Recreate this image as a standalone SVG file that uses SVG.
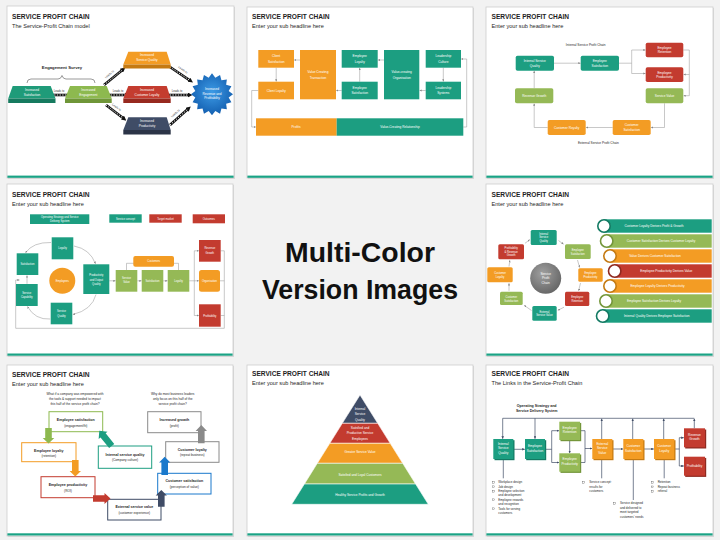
<svg xmlns="http://www.w3.org/2000/svg" width="720" height="540" viewBox="0 0 720 540">
<defs>
<style>
text{font-family:"Liberation Sans",Arial,sans-serif}
.fr{fill:#fff;stroke:#cdcdcd;stroke-width:.8}
.sh{fill:#d9d9d9}
.tb{fill:#1aa385}
.tt{font-weight:bold;font-size:6.6px;fill:#1e1e1e}
.st{font-size:5.6px;fill:#262626}
.w{fill:#fff;font-size:3.2px;text-anchor:middle}
.ws{fill:#fff;font-size:2.7px;text-anchor:middle}
.d{fill:#262626;font-size:3.2px;text-anchor:middle}
.db{fill:#1e1e1e;font-size:3.6px;text-anchor:middle;font-weight:bold}
.dl{fill:#262626;font-size:3px}
.te{fill:#1c9e81}.gr{fill:#95b956}.or{fill:#f39c24}.rd{fill:#c33b2f}.sa{fill:#3f4c66}
.ln{fill:none;stroke:#9a9a9a;stroke-width:.55}
.ld{fill:none;stroke:#3f4c66;stroke-width:.7}
.ch{fill:none;stroke:#111;stroke-width:2.6}
.cw{fill:none;stroke:#fff;stroke-width:.9;stroke-dasharray:1.4 1.3}
.bx{fill:#fff;stroke-width:1}
.cb{fill:#fff;stroke:#333;stroke-width:.3}
</style>
<marker id="mg" viewBox="0 0 10 10" refX="10" refY="5" markerWidth="2.2" markerHeight="2.2" markerUnits="userSpaceOnUse" orient="auto"><path d="M0,0L10,5L0,10z" fill="#8a8a8a"/></marker>
<marker id="md" viewBox="0 0 10 10" refX="10" refY="5" markerWidth="2.6" markerHeight="2.6" markerUnits="userSpaceOnUse" orient="auto"><path d="M0,0L10,5L0,10z" fill="#3f4c66"/></marker>
<marker id="mk" viewBox="0 0 10 10" refX="4" refY="5" markerWidth="5" markerHeight="5" markerUnits="userSpaceOnUse" orient="auto"><path d="M0,0L10,5L0,10z" fill="#111"/></marker>
<radialGradient id="gb" cx="50%" cy="45%" r="55%"><stop offset="0" stop-color="#3d9be6"/><stop offset="1" stop-color="#135fb0"/></radialGradient>
<radialGradient id="gg" cx="40%" cy="35%" r="65%"><stop offset="0" stop-color="#a0a0a0"/><stop offset="1" stop-color="#686868"/></radialGradient>
</defs>
<rect width="720" height="540" fill="#f2f2f2"/>

<g id="center-caption">
<text x="360" y="261.5" font-size="28.5" font-weight="bold" text-anchor="middle" fill="#111" textLength="150" lengthAdjust="spacingAndGlyphs">Multi-Color</text>
<text x="360" y="299" font-size="28.5" font-weight="bold" text-anchor="middle" fill="#111" textLength="196" lengthAdjust="spacingAndGlyphs">Version Images</text>
</g>

<!-- ============ SLIDE 1 ============ -->
<g id="slide1">
<rect class="sh" x="8" y="7" width="227" height="172"/>
<rect class="fr" x="7" y="6" width="227" height="172"/>
<rect class="tb" x="7.4" y="175.6" width="226.2" height="2.2"/>
<text class="tt" x="12" y="19.3">SERVICE PROFIT CHAIN</text>
<text class="st" x="12" y="28.3">The Service-Profit Chain model</text>
<g id="s1-survey">
<text x="62" y="69" font-size="4.2" font-weight="bold" text-anchor="middle" fill="#1e1e1e">Engagement Survey</text>
<path d="M27,83 Q27,79 31,79 L58,79 Q61,79 62,75.5 Q63,79 66,79 L91,79 Q95,79 95,83" fill="none" stroke="#555" stroke-width=".6"/>
</g>
<g id="s1-connectors">
<path class="ch" d="M46,95 H70.5" marker-end="url(#mk)"/><path class="cw" d="M46,95 H69"/>
<path class="ch" d="M108,95 H126.5" marker-end="url(#mk)"/><path class="cw" d="M108,95 H125"/>
<path class="ch" d="M167,95 H189.5" marker-end="url(#mk)"/><path class="cw" d="M167,95 H188"/>
<path class="ch" d="M104,85 L123,69.5" marker-end="url(#mk)"/><path class="cw" d="M104,85 L122,70.3"/>
<path class="ch" d="M106,105 L124,118.8" marker-end="url(#mk)"/><path class="cw" d="M106,105 L123,118"/>
<path class="ch" d="M170,67 L190.5,80.8" marker-end="url(#mk)"/><path class="cw" d="M170,67 L189.3,80"/>
<path class="ch" d="M170,125 L188.5,108.5" marker-end="url(#mk)"/><path class="cw" d="M170,125 L187.5,109.4"/>
<g font-size="2.8" fill="#333" text-anchor="middle">
<text x="59" y="91.5">Leads to</text>
<text x="118" y="91.5">Leads to</text>
<text x="177" y="91.5">Leads to</text>
<text x="110" y="75" transform="rotate(-40 110 75)">Leads to</text>
<text x="116" y="108" transform="rotate(37 116 108)">Leads to</text>
<text x="182.5" y="70.5" transform="rotate(35 182.5 70.5)">Leads to</text>
<text x="176" y="114" transform="rotate(-42 176 114)">Leads to</text>
</g>
</g>
<g id="s1-satisfaction">
<polygon points="12.7,86 50.7,86 55.5,98.5 8.2,98.5" fill="#1f9b79"/><rect x="8.2" y="98.5" width="47.3" height="4.5" fill="#167a5f"/>
<text class="w"><tspan x="32" y="90.8">Increased</tspan><tspan x="32" y="95.6">Satisfaction</tspan></text>
</g>
<g id="s1-engagement">
<polygon points="70,86 106.7,86 111.7,98.5 65,98.5" fill="#8db94f"/><rect x="65" y="98.5" width="46.7" height="4.5" fill="#6f9638"/>
<text class="w"><tspan x="88.3" y="90.8">Increased</tspan><tspan x="88.3" y="95.6">Engagement</tspan></text>
</g>
<g id="s1-quality">
<polygon points="128.3,51.7 166.7,51.7 170.7,64.5 123.3,64.5" fill="#f39c24"/><rect x="123.3" y="64.5" width="47.4" height="4" fill="#c57a12"/>
<text class="w"><tspan x="147" y="56.3">Increased</tspan><tspan x="147" y="61.1">Service Quality</tspan></text>
</g>
<g id="s1-loyalty">
<polygon points="128.3,86 166.7,86 170.7,98.5 123.3,98.5" fill="#c43c2f"/><rect x="123.3" y="98.5" width="47.4" height="4.5" fill="#97291f"/>
<text class="w"><tspan x="147" y="90.8">Increased</tspan><tspan x="147" y="95.6">Customer Loyalty</tspan></text>
</g>
<g id="s1-productivity">
<polygon points="128.3,117.3 166.7,117.3 170.7,130 123.3,130" fill="#3f4c66"/><rect x="123.3" y="130" width="47.4" height="4.5" fill="#2b3447"/>
<text class="w"><tspan x="147" y="121.9">Increased</tspan><tspan x="147" y="126.7">Productivity</tspan></text>
</g>
<g id="s1-revenue">
<polygon fill="url(#gb)" points="233,94.3 228.67,97.62 231.4,102.34 226.14,103.75 226.85,109.15 221.45,108.44 220.04,113.7 215.32,110.97 212,115.3 208.68,110.97 203.96,113.7 202.55,108.44 197.15,109.15 197.86,103.75 192.6,102.34 195.33,97.62 191,94.3 195.33,90.98 192.6,86.26 197.86,84.85 197.15,79.45 202.55,80.16 203.96,74.9 208.68,77.63 212,73.3 215.32,77.63 220.04,74.9 221.45,80.16 226.85,79.45 226.14,84.85 231.4,86.26 228.67,90.98"/>
<text class="w" font-size="3"><tspan x="212" y="89.8">Increased</tspan><tspan x="212" y="94.6">Revenue and</tspan><tspan x="212" y="99.4">Profitability</tspan></text>
</g>
</g>

<!-- ============ SLIDE 2 ============ -->
<g id="slide2" transform="translate(240,0)">
<rect class="sh" x="8" y="8" width="226" height="171"/>
<rect class="fr" x="7" y="7" width="226" height="171"/>
<rect class="tb" x="7.4" y="175.6" width="225.2" height="2.2"/>
<text class="tt" x="12" y="19.3">SERVICE PROFIT CHAIN</text>
<text class="st" x="12" y="28.3">Enter your sub headline here</text>
<g id="s2-connectors" marker-end="url(#mg)">
<path class="ln" d="M36.2,67.7 V81.5" marker-end="url(#mg)"/>
<path class="ln" d="M60,60 H54.2" marker-end="url(#mg)"/>
<path class="ln" d="M101.7,90.5 H96.2" marker-end="url(#mg)"/>
<path class="ln" d="M144,60 H137.9" marker-end="url(#mg)"/>
<path class="ln" d="M119.7,81.7 V67.9" marker-end="url(#mg)"/>
<path class="ln" d="M185.7,90.5 H179.5" marker-end="url(#mg)"/>
<path class="ln" d="M203.3,67.7 V81.5" marker-end="url(#mg)"/>
<path class="ln" d="M223.3,127 H226.7 V59 H221.2" marker-end="url(#mg)"/>
<path class="ln" d="M18.3,90.5 H11.7 V127 H15.8" marker-end="url(#mg)"/>
</g>
<g id="s2-client-satisfaction"><rect class="or" x="18.3" y="50" width="35.7" height="17.7"/><text class="w"><tspan x="36.2" y="57.2">Client</tspan><tspan x="36.2" y="62.6">Satisfaction</tspan></text></g>
<g id="s2-client-loyalty"><rect class="or" x="18.3" y="81.7" width="35.7" height="17.6"/><text class="w" x="36.2" y="91.6">Client Loyalty</text></g>
<g id="s2-transaction"><rect class="or" x="60" y="50" width="36" height="49.3"/><text class="w"><tspan x="78" y="73">Value Creating</tspan><tspan x="78" y="79">Transaction</tspan></text></g>
<g id="s2-employee-loyalty"><rect class="te" x="101.7" y="50" width="36" height="17.7"/><text class="w"><tspan x="119.7" y="57.2">Employee</tspan><tspan x="119.7" y="62.6">Loyalty</tspan></text></g>
<g id="s2-employee-satisfaction"><rect class="te" x="101.7" y="81.7" width="36" height="17.6"/><text class="w"><tspan x="119.7" y="89">Employee</tspan><tspan x="119.7" y="94.4">Satisfaction</tspan></text></g>
<g id="s2-organisation"><rect class="te" x="144" y="50" width="35.3" height="49.3"/><text class="w"><tspan x="161.7" y="73">Value-creating</tspan><tspan x="161.7" y="79">Organisation</tspan></text></g>
<g id="s2-leadership-culture"><rect class="te" x="185.7" y="50" width="35.3" height="17.7"/><text class="w"><tspan x="203.3" y="57.2">Leadership</tspan><tspan x="203.3" y="62.6">Culture</tspan></text></g>
<g id="s2-leadership-systems"><rect class="te" x="185.7" y="81.7" width="35.3" height="17.6"/><text class="w"><tspan x="203.3" y="89">Leadership</tspan><tspan x="203.3" y="94.4">Systems</tspan></text></g>
<g id="s2-profits"><rect class="or" x="16" y="118.3" width="80.7" height="17.4"/><text class="w" x="56" y="128.2">Profits</text></g>
<g id="s2-relationship"><rect class="te" x="96.7" y="118.3" width="126.6" height="17.4"/><text class="w" x="160" y="128.2">Value-Creating Relationship</text></g>
</g>

<!-- ============ SLIDE 3 ============ -->
<g id="slide3" transform="translate(480,0)">
<rect class="sh" x="7" y="8" width="227" height="171"/>
<rect class="fr" x="6" y="7" width="227" height="171"/>
<rect class="tb" x="6.4" y="175.6" width="226.2" height="2.2"/>
<text class="tt" x="11.5" y="19">SERVICE PROFIT CHAIN</text>
<text class="st" x="11.5" y="28.3">Enter your sub headline here</text>
<text class="d" x="105.7" y="45.7" font-size="4.3">Internal Service Profit Chain</text>
<text class="d" x="118.3" y="144" font-size="4.3">External Service Profit Chain</text>
<g id="s3-connectors">
<path class="ln" d="M74,63.2 H100.5" marker-end="url(#mg)"/>
<path class="ln" d="M139,63.2 H151.7 M151.7,50 V73.5"/>
<path class="ln" d="M151.7,50 H165.5" marker-end="url(#mg)"/>
<path class="ln" d="M151.7,73.5 H165.5" marker-end="url(#mg)"/>
<path class="ln" d="M203.3,50 H209.3 V95.7 H203.5" marker-end="url(#mg)"/>
<path class="ln" d="M209.3,74.5 H203.5" marker-end="url(#mg)"/>
<path class="ln" d="M184.5,103.3 V127.5 H170.9" marker-end="url(#mg)"/>
<path class="ln" d="M132.7,127.5 H105.9" marker-end="url(#mg)"/>
<path class="ln" d="M67.7,127.5 H54.2 V103.5" marker-end="url(#mg)"/>
<path class="ln" d="M54.2,88.3 V70.9" marker-end="url(#mg)"/>
</g>
<g id="s3-isq"><rect class="te" x="35.7" y="55.7" width="38.3" height="15" rx="1.8"/><text class="w" font-size="3"><tspan x="54.8" y="62">Internal Service</tspan><tspan x="54.8" y="66.6">Quality</tspan></text></g>
<g id="s3-es"><rect class="te" x="100.7" y="55.7" width="38.3" height="15" rx="1.8"/><text class="w" font-size="3"><tspan x="119.8" y="62">Employee</tspan><tspan x="119.8" y="66.6">Satisfaction</tspan></text></g>
<g id="s3-er"><rect class="rd" x="165.7" y="42.7" width="37.6" height="14.6" rx="1.8"/><text class="w" font-size="3"><tspan x="184.5" y="48.8">Employee</tspan><tspan x="184.5" y="53.4">Retention</tspan></text></g>
<g id="s3-ep"><rect class="rd" x="165.7" y="67.3" width="37.6" height="14.7" rx="1.8"/><text class="w" font-size="3"><tspan x="184.5" y="73.5">Employee</tspan><tspan x="184.5" y="78.1">Productivity</tspan></text></g>
<g id="s3-sv"><rect class="gr" x="165.7" y="88.3" width="37.6" height="15" rx="1.8"/><text class="w" font-size="3" x="184.5" y="96.8">Service Value</text></g>
<g id="s3-rg"><rect class="gr" x="35" y="88.3" width="38.3" height="15" rx="1.8"/><text class="w" font-size="3" x="54.2" y="96.8">Revenue Growth</text></g>
<g id="s3-cr"><rect class="or" x="67.7" y="120" width="38" height="15" rx="1.8"/><text class="w" font-size="3" x="86.7" y="128.5">Customer Royalty</text></g>
<g id="s3-cs"><rect class="or" x="132.7" y="120" width="38" height="15" rx="1.8"/><text class="w" font-size="3"><tspan x="151.7" y="126">Customer</tspan><tspan x="151.7" y="130.8">Satisfaction</tspan></text></g>
</g>

<!-- ============ SLIDE 4 ============ -->
<g id="slide4" transform="translate(0,180)">
<rect class="sh" x="8" y="5" width="226" height="172"/>
<rect class="fr" x="7" y="4" width="226" height="172"/>
<rect class="tb" x="7.4" y="173.5" width="225.2" height="2.2"/>
<text class="tt" x="12" y="16.7">SERVICE PROFIT CHAIN</text>
<text class="st" x="12" y="26">Enter your sub headline here</text>
<g id="s4-legend">
<rect class="te" x="30" y="34.3" width="59.3" height="9.7"/><text class="ws"><tspan x="59.7" y="38.3">Operating Strategy and Service</tspan><tspan x="59.7" y="42.1">Delivery System</tspan></text>
<rect class="te" x="109.3" y="34.3" width="32.4" height="8.4"/><text class="ws" x="125.5" y="39.5">Service concept</text>
<rect class="rd" x="149.3" y="34.3" width="32.4" height="8.4"/><text class="ws" x="165.5" y="39.5">Target market</text>
<rect class="rd" x="192.7" y="34.3" width="32.3" height="9"/><text class="ws" x="208.8" y="39.8">Outcomes</text>
</g>
<g id="s4-connectors">
<path class="ln" d="M51,62.5 Q33,62 25.5,72.8" marker-end="url(#mg)"/>
<path class="ln" d="M74,66 Q90,69 95.5,83.8" marker-end="url(#mg)"/>
<path class="ln" d="M96,114.5 Q92,130 72.8,134.5" marker-end="url(#mg)"/>
<path class="ln" d="M50.2,139 Q35,140 27.5,126.5" marker-end="url(#mg)"/>
<path class="ln" d="M27,103.8 V95.4" marker-end="url(#mg)"/>
<path class="ln" d="M126.5,90 V83.3 H178.5 V90"/>
<path class="ln" d="M109.3,100.8 H115.5" marker-end="url(#mg)"/>
<path class="ln" d="M137.3,100.8 H141.5" marker-end="url(#mg)"/>
<path class="ln" d="M163.3,100.8 H167.5" marker-end="url(#mg)"/>
<path class="ln" d="M189.3,100.8 H194.3 M194.3,70.8 V135.5"/>
<path class="ln" d="M194.3,70.8 H198.8" marker-end="url(#mg)"/>
<path class="ln" d="M194.3,100.8 H198.8" marker-end="url(#mg)"/>
<path class="ln" d="M194.3,135.5 H198.8" marker-end="url(#mg)"/>
<path class="ln" d="M220.7,70.8 H224.3 M220,100.8 H224.3 M220.7,135.5 H224.3"/>
<path class="ln" d="M224.3,70.8 V148.3 H15.7 V100 H19.5" marker-end="url(#mg)"/>
</g>
<g id="s4-loyalty"><rect class="te" x="51.7" y="57.3" width="21.6" height="22"/><text class="ws" x="62.5" y="69.2">Loyalty</text></g>
<g id="s4-satisfaction"><rect class="te" x="16.7" y="73.3" width="21.6" height="21.7"/><text class="ws" x="27.5" y="85.2">Satisfaction</text></g>
<g id="s4-capability"><rect class="te" x="16" y="104" width="21.7" height="22"/><text class="ws"><tspan x="26.8" y="113.8">Service</tspan><tspan x="26.8" y="118.2">Capability</tspan></text></g>
<g id="s4-quality"><rect class="te" x="50.7" y="122.7" width="21.6" height="21.6"/><text class="ws"><tspan x="61.5" y="132.4">Service</tspan><tspan x="61.5" y="136.8">Quality</tspan></text></g>
<g id="s4-productivity"><rect class="te" x="83.3" y="84.3" width="26" height="29.7"/><text class="ws"><tspan x="96.3" y="96.2">Productivity</tspan><tspan x="96.3" y="100.6">and Output</tspan><tspan x="96.3" y="105">Quality</tspan></text></g>
<g id="s4-employees"><circle class="or" cx="62.3" cy="100.7" r="13"/><text class="ws" x="62.3" y="101.7">Employees</text></g>
<g id="s4-service-value"><rect class="gr" x="115.7" y="90" width="21.6" height="21.7"/><text class="ws"><tspan x="126.5" y="99">Service</tspan><tspan x="126.5" y="103.4">Value</tspan></text></g>
<g id="s4-c-satisfaction"><rect class="gr" x="141.7" y="90" width="21.6" height="21.7"/><text class="ws" x="152.5" y="101.8">Satisfaction</text></g>
<g id="s4-c-loyalty"><rect class="gr" x="167.7" y="90" width="21.6" height="21.7"/><text class="ws" x="178.5" y="101.8">Loyalty</text></g>
<g id="s4-customers"><rect class="or" x="133.3" y="76" width="40.7" height="10.7" rx="2"/><text class="ws" x="153.7" y="82.3">Customers</text></g>
<g id="s4-revenue"><rect class="rd" x="199" y="60" width="21.7" height="21.7"/><text class="ws"><tspan x="209.8" y="69.3">Revenue</tspan><tspan x="209.8" y="73.7">Growth</tspan></text></g>
<g id="s4-organisation"><rect class="or" x="199" y="90" width="21" height="21.7" rx="2.5"/><text class="ws" x="209.5" y="101.8">Organisation</text></g>
<g id="s4-profitability"><rect class="rd" x="199" y="124.3" width="21.7" height="22.4"/><text class="ws" x="209.8" y="136.5">Profitability</text></g>
</g>

<!-- ============ SLIDE 5 ============ -->
<g id="slide5" transform="translate(480,180)">
<rect class="sh" x="7" y="5" width="227" height="172"/>
<rect class="fr" x="6" y="4" width="227" height="172"/>
<rect class="tb" x="6.4" y="173.5" width="226.2" height="2.2"/>
<text class="tt" x="11.5" y="16.7">SERVICE PROFIT CHAIN</text>
<text class="st" x="11.5" y="26">Enter your sub headline here</text>
<g id="s5-connectors">
<path class="ln" d="M78.5,60.5 L83.6,64.3" marker-end="url(#mg)"/>
<path class="ln" d="M97.5,80 L99.6,87.5" marker-end="url(#mg)"/>
<path class="ln" d="M100.5,103 L98.6,110.8" marker-end="url(#mg)"/>
<path class="ln" d="M84,127.2 L77.8,130.3" marker-end="url(#mg)"/>
<path class="ln" d="M51.5,130.5 L44.2,125.3" marker-end="url(#mg)"/>
<path class="ln" d="M29,110.8 L29,103.3" marker-end="url(#mg)"/>
<path class="ln" d="M29,86.5 L29.8,80.2" marker-end="url(#mg)"/>
<path class="ln" d="M45,63.3 L49.8,59.6" marker-end="url(#mg)"/>
</g>
<g id="s5-hub"><circle cx="65.7" cy="98.3" r="15.5" fill="url(#gg)"/><text class="w" font-size="4.2"><tspan x="65.7" y="94.5">Service</tspan><tspan x="65.7" y="99.3">Profit</tspan><tspan x="65.7" y="104.1">Chain</tspan></text></g>
<g id="s5-isq"><rect class="te" x="50.7" y="50" width="26" height="15" rx="1.5"/><text class="ws" font-size="2.6"><tspan x="63.7" y="54.8">Internal</tspan><tspan x="63.7" y="58.4">Service</tspan><tspan x="63.7" y="62">Quality</tspan></text></g>
<g id="s5-es"><rect class="gr" x="85" y="64.3" width="25.7" height="14.7" rx="1.5"/><text class="ws" font-size="2.6"><tspan x="97.8" y="70.8">Employee</tspan><tspan x="97.8" y="74.6">Satisfaction</tspan></text></g>
<g id="s5-ep"><rect class="or" x="98.3" y="88.3" width="24.4" height="13.4" rx="1.5"/><text class="ws" font-size="2.6"><tspan x="110.5" y="94.2">Employee</tspan><tspan x="110.5" y="98">Productivity</tspan></text></g>
<g id="s5-er"><rect class="rd" x="85" y="111.7" width="24.3" height="14.3" rx="1.5"/><text class="ws" font-size="2.6"><tspan x="97.2" y="118">Employee</tspan><tspan x="97.2" y="121.8">Retention</tspan></text></g>
<g id="s5-esv"><rect class="te" x="52.3" y="126" width="24.4" height="14.7" rx="1.5"/><text class="ws" font-size="2.6"><tspan x="64.5" y="132.5">External</tspan><tspan x="64.5" y="136.3">Service Value</tspan></text></g>
<g id="s5-cs"><rect class="gr" x="20" y="111.7" width="22.7" height="13.3" rx="1.5"/><text class="ws" font-size="2.6"><tspan x="31.3" y="117.8">Customer</tspan><tspan x="31.3" y="121.6">Satisfaction</tspan></text></g>
<g id="s5-cl"><rect class="or" x="7.3" y="87.3" width="25.4" height="15" rx="1.5"/><text class="ws" font-size="2.6"><tspan x="20" y="93.8">Customer</tspan><tspan x="20" y="97.6">Loyalty</tspan></text></g>
<g id="s5-prg"><rect class="rd" x="18.3" y="64.3" width="25.7" height="15" rx="1.5"/><text class="ws" font-size="2.6"><tspan x="31.2" y="68.9">Profitability</tspan><tspan x="31.2" y="72.5">&amp; Revenue</tspan><tspan x="31.2" y="76.1">Growth</tspan></text></g>
<g id="s5-bar1"><rect class="te" x="124" y="39.3" width="107.7" height="13.4"/><circle cx="124" cy="46" r="6.2" fill="#fff" stroke="#137a63" stroke-width="1.6"/><text class="w" font-size="3.1" x="174" y="47.2">Customer Loyalty Derives Profit &amp; Growth</text></g>
<g id="s5-bar2"><rect class="gr" x="126.7" y="54.3" width="105" height="13.4"/><circle cx="126.7" cy="61" r="6.2" fill="#fff" stroke="#74963a" stroke-width="1.6"/><text class="w" font-size="3.1" x="181" y="62.2">Customer Satisfaction Derives Customer Loyalty</text></g>
<g id="s5-bar3"><rect class="or" x="130" y="69.3" width="101.7" height="13.4"/><circle cx="130" cy="76" r="6.2" fill="#fff" stroke="#c57a12" stroke-width="1.6"/><text class="w" font-size="3.1" x="175" y="77.2">Value Derives Customer Satisfaction</text></g>
<g id="s5-bar4"><rect class="rd" x="134.7" y="84.3" width="97" height="13.4"/><circle cx="134.7" cy="91" r="6.2" fill="#fff" stroke="#8f2a20" stroke-width="1.6"/><text class="w" font-size="3.1" x="186.3" y="92.2">Employee Productivity Derives Value</text></g>
<g id="s5-bar5"><rect class="or" x="130" y="99.3" width="101.7" height="13.4"/><circle cx="130" cy="106" r="6.2" fill="#fff" stroke="#c57a12" stroke-width="1.6"/><text class="w" font-size="3.1" x="177.5" y="107.2">Employee Loyalty Derives Productivity</text></g>
<g id="s5-bar6"><rect class="gr" x="126" y="114.3" width="105.7" height="13.4"/><circle cx="126" cy="121" r="6.2" fill="#fff" stroke="#74963a" stroke-width="1.6"/><text class="w" font-size="3.1" x="174" y="122.2">Employee Satisfaction Derives Loyalty</text></g>
<g id="s5-bar7"><rect class="te" x="122.7" y="129.3" width="109" height="13.4"/><circle cx="122.7" cy="136" r="6.2" fill="#fff" stroke="#137a63" stroke-width="1.6"/><text class="w" font-size="3.1" x="176.7" y="137.2">Internal Quality Derives Employee Satisfaction</text></g>
</g>

<!-- ============ SLIDE 6 ============ -->
<g id="slide6" transform="translate(0,360)">
<rect class="sh" x="8" y="6" width="226" height="171"/>
<rect class="fr" x="7" y="5" width="226" height="171"/>
<rect class="tb" x="7.4" y="173.3" width="225.2" height="2.2"/>
<text class="tt" x="12" y="16.7">SERVICE PROFIT CHAIN</text>
<text class="st" x="12" y="25.7">Enter your sub headline here</text>
<text class="d" font-size="3"><tspan x="75" y="35.2">What if a company was empowered with</tspan><tspan x="75" y="40.3">the tools &amp; support needed to impact</tspan><tspan x="75" y="45.4">this half of the service profit chain?</tspan></text>
<text class="d" font-size="3"><tspan x="172.7" y="35.2">Why do most business leaders</tspan><tspan x="172.7" y="40.3">only focus on this half of the</tspan><tspan x="172.7" y="45.4">service profit chain?</tspan></text>
<g id="s6-emp-sat"><rect class="bx" x="49" y="51.7" width="53.7" height="20" stroke="#8db94f"/><text class="db" x="75.8" y="61.2">Employee satisfaction</text><text class="d" x="75.8" y="66.8">(engagement/fit)</text></g>
<g id="s6-emp-loy"><rect class="bx" x="21.7" y="82.7" width="54.3" height="19" stroke="#f39c24"/><text class="db" x="48.8" y="91.5">Employee loyalty</text><text class="d" x="48.8" y="97">(retention)</text></g>
<g id="s6-emp-prod"><rect class="bx" x="41" y="116.7" width="54" height="21" stroke="#c33b2f"/><text class="db" x="68" y="126">Employee productivity</text><text class="d" x="68" y="131.5">(ROI)</text></g>
<g id="s6-ext-val"><rect class="bx" x="107.7" y="139.3" width="53.3" height="20.7" stroke="#3f4c66"/><text class="db" x="134.3" y="148">External service value</text><text class="d" x="134.3" y="153.5">(customer experience)</text></g>
<g id="s6-cust-sat"><rect class="bx" x="157.7" y="113.3" width="53.3" height="20.7" stroke="#1a79cc"/><text class="db" x="184.3" y="122">Customer satisfaction</text><text class="d" x="184.3" y="127.5">(perception of value)</text></g>
<g id="s6-cust-loy"><rect class="bx" x="165.7" y="81.7" width="53.3" height="20.6" stroke="#8a8a8a"/><text class="db" x="192.3" y="90.5">Customer loyalty</text><text class="d" x="192.3" y="96">(repeat business)</text></g>
<g id="s6-growth"><rect class="bx" x="147.7" y="51.7" width="53.3" height="21" stroke="#8a8a8a"/><text class="db" x="174.3" y="61">Increased growth</text><text class="d" x="174.3" y="66.8">(profit)</text></g>
<g id="s6-isq"><rect class="bx" x="98.3" y="86" width="53.4" height="22.3" stroke="#1c9e81"/><text class="db" x="125" y="95.5">Internal service quality</text><text class="d" x="125" y="101">(Company culture)</text></g>
<g id="s6-connectors">
<polygon fill="#8db94f" points="45.2,68 51.8,68 51.8,78 54.3,78 48.5,83.5 42.7,78 45.2,78"/>
<polygon fill="#f39c24" points="72,100 78.6,100 78.6,111 81,111 75.3,116.5 69.6,111 72,111"/>
<polygon fill="#c33b2f" points="93,135.2 104.5,135.2 104.5,133 110.5,138.5 104.5,144 104.5,141.8 93,141.8"/>
<polygon fill="#3f4c66" points="158,146.7 164.6,146.7 164.6,135.5 166.9,135.5 161.3,130 155.7,135.5 158,135.5"/>
<polygon fill="#1a79cc" points="161.4,115 168,115 168,102.5 170.3,102.5 164.7,96.7 159.1,102.5 161.4,102.5"/>
<polygon fill="#8a8a8a" points="198,83.3 204.6,83.3 204.6,71 207,71 201.3,65 195.6,71 198,71"/>
<polygon fill="#1c9e81" transform="translate(111.7,86) rotate(-39)" points="-3.3,0 3.3,0 3.3,-13.7 5.7,-13.7 0,-19.7 -5.7,-13.7 -3.3,-13.7"/>
</g>
</g>

<!-- ============ SLIDE 7 ============ -->
<g id="slide7" transform="translate(240,360)">
<rect class="sh" x="8" y="6" width="226" height="171"/>
<rect class="fr" x="7" y="5" width="226" height="171"/>
<rect class="tb" x="7.4" y="173.3" width="225.2" height="2.2"/>
<text class="tt" x="12" y="16.3">SERVICE PROFIT CHAIN</text>
<text class="st" x="12" y="25.3">Enter your sub headline here</text>
<g id="s7-layer1"><polygon class="sa" stroke="#fff" stroke-width=".6" points="120,35 137.7,63.3 102.3,63.3"/><text class="w" font-size="3"><tspan x="120" y="50">Internal</tspan><tspan x="120" y="55.3">Service</tspan><tspan x="120" y="60.6">Quality</tspan></text></g>
<g id="s7-layer2"><polygon class="rd" stroke="#fff" stroke-width=".6" points="102.3,63.3 137.7,63.3 150.2,83.3 89.8,83.3"/><text class="w" font-size="3"><tspan x="120" y="69">Satisfied and</tspan><tspan x="120" y="74.3">Productive Service</tspan><tspan x="120" y="79.6">Employees</tspan></text></g>
<g id="s7-layer3"><polygon class="or" stroke="#fff" stroke-width=".6" points="89.8,83.3 150.2,83.3 162.7,103.3 77.3,103.3"/><text class="w" font-size="3" x="120" y="92.7">Greater Service Value</text></g>
<g id="s7-layer4"><polygon class="gr" stroke="#fff" stroke-width=".6" points="77.3,103.3 162.7,103.3 175.6,124 64.4,124"/><text class="w" font-size="3" x="120" y="115.5">Satisfied and Loyal Customers</text></g>
<g id="s7-layer5"><polygon class="te" stroke="#fff" stroke-width=".6" points="64.4,124 175.6,124 188.3,144.3 51.7,144.3"/><text class="w" font-size="3" x="120" y="135.8">Healthy Service Profits and Growth</text></g>
</g>

<!-- ============ SLIDE 8 ============ -->
<g id="slide8" transform="translate(480,360)">
<rect class="sh" x="7" y="6" width="227" height="171"/>
<rect class="fr" x="6" y="5" width="227" height="171"/>
<rect class="tb" x="6.4" y="173.3" width="226.2" height="2.2"/>
<text class="tt" x="11.5" y="16">SERVICE PROFIT CHAIN</text>
<text class="st" x="11.5" y="25.3">The Links in the Service-Profit Chain</text>
<text class="db" font-size="3.4"><tspan x="56.7" y="46.8">Operating Strategy and</tspan><tspan x="56.7" y="52.3">Service Delivery System</tspan></text>
<g id="s8-connectors">
<path class="ld" d="M22.7,58.3 H214.3"/>
<path class="ld" d="M22.7,58.3 V78.8" marker-end="url(#md)"/>
<path class="ld" d="M55,58.3 V78.8" marker-end="url(#md)"/>
<path class="ld" d="M121.7,79 V58.7" marker-end="url(#md)"/>
<path class="ld" d="M152.7,79 V58.7" marker-end="url(#md)"/>
<path class="ld" d="M183.7,79 V58.7" marker-end="url(#md)"/>
<path class="ld" d="M214.3,68.3 V58.7" marker-end="url(#md)"/>
<path class="ld" d="M33.3,89.3 H44.8" marker-end="url(#md)"/>
<path class="ld" d="M65,89.3 H71.7 M71.7,70.7 V102.5"/>
<path class="ld" d="M71.7,70.7 H79.1" marker-end="url(#md)"/>
<path class="ld" d="M71.7,102.5 H79.1" marker-end="url(#md)"/>
<path class="ld" d="M89.7,80 V93.1" marker-end="url(#md)"/>
<path class="ld" d="M100,70.7 H105 V102.5 H100"/>
<path class="ld" d="M105,88.5 H112.1" marker-end="url(#md)"/>
<path class="ld" d="M132.3,89 H143.1" marker-end="url(#md)"/>
<path class="ld" d="M163.3,89 H173.8" marker-end="url(#md)"/>
<path class="ld" d="M194.3,89 H199.3 M199.3,77.7 V106"/>
<path class="ld" d="M199.3,77.7 H203.8" marker-end="url(#md)"/>
<path class="ld" d="M199.3,106 H203.8" marker-end="url(#md)"/>
<path class="ld" d="M23.3,99 V118.3 M121.7,99 V118.3 M153.3,99 V140 M184.2,99 V118.3"/>
</g>
<g id="s8-isq"><rect x="14.5" y="80.2" width="20" height="20" fill="#137a63"/><rect class="te" x="13.3" y="79" width="20" height="20"/><text class="w" font-size="2.9"><tspan x="23.3" y="84.8">Internal</tspan><tspan x="23.3" y="89.4">Service</tspan><tspan x="23.3" y="94">Quality</tspan></text></g>
<g id="s8-es"><rect x="46.2" y="80.2" width="20" height="20" fill="#137a63"/><rect class="te" x="45" y="79" width="20" height="20"/><text class="w" font-size="2.9"><tspan x="55" y="87.4">Employee</tspan><tspan x="55" y="91.8">Satisfaction</tspan></text></g>
<g id="s8-er"><rect x="80.5" y="62.9" width="20.7" height="18.3" fill="#74963a"/><rect class="gr" x="79.3" y="61.7" width="20.7" height="18.3"/><text class="w" font-size="2.9"><tspan x="89.7" y="68.8">Employee</tspan><tspan x="89.7" y="73.2">Retention</tspan></text></g>
<g id="s8-ep"><rect x="80.5" y="94.5" width="20.7" height="18.4" fill="#74963a"/><rect class="gr" x="79.3" y="93.3" width="20.7" height="18.4"/><text class="w" font-size="2.9"><tspan x="89.7" y="100.2">Employee</tspan><tspan x="89.7" y="104.6">Productivity</tspan></text></g>
<g id="s8-esv"><rect x="113.5" y="80.2" width="20" height="20" fill="#c57a12"/><rect class="or" x="112.3" y="79" width="20" height="20"/><text class="w" font-size="2.9"><tspan x="122.3" y="84.8">External</tspan><tspan x="122.3" y="89.4">Service</tspan><tspan x="122.3" y="94">Value</tspan></text></g>
<g id="s8-cs"><rect x="144.5" y="80.2" width="20" height="20" fill="#c57a12"/><rect class="or" x="143.3" y="79" width="20" height="20"/><text class="w" font-size="2.9"><tspan x="153.3" y="87.4">Customer</tspan><tspan x="153.3" y="91.8">Satisfaction</tspan></text></g>
<g id="s8-cl"><rect x="175.2" y="80.2" width="20.3" height="20" fill="#c57a12"/><rect class="or" x="174" y="79" width="20.3" height="20"/><text class="w" font-size="2.9"><tspan x="184.2" y="87.4">Customer</tspan><tspan x="184.2" y="91.8">Loyalty</tspan></text></g>
<g id="s8-rg"><rect x="205.2" y="69.5" width="21" height="19" fill="#8f2a20"/><rect class="rd" x="204" y="68.3" width="21" height="19"/><text class="w" font-size="2.9"><tspan x="214.5" y="75.6">Revenue</tspan><tspan x="214.5" y="80">Growth</tspan></text></g>
<g id="s8-pr"><rect x="205.2" y="97.9" width="21" height="19" fill="#8f2a20"/><rect class="rd" x="204" y="96.7" width="21" height="19"/><text class="w" font-size="2.9" x="214.5" y="107.2">Profitability</text></g>
<g id="s8-list-left">
<rect class="cb" x="12.4" y="121.6" width="1.8" height="1.8"/><rect class="cb" x="12.4" y="125.9" width="1.8" height="1.8"/><rect class="cb" x="12.4" y="130.3" width="1.8" height="1.8"/><rect class="cb" x="12.4" y="138.9" width="1.8" height="1.8"/><rect class="cb" x="12.4" y="147.9" width="1.8" height="1.8"/>
<text class="dl"><tspan x="18.3" y="123.3">Workplace design</tspan><tspan x="18.3" y="127.6">Job design</tspan><tspan x="18.3" y="132">Employee selection</tspan><tspan x="18.3" y="136.3">and development</tspan><tspan x="18.3" y="140.6">Employee rewards</tspan><tspan x="18.3" y="145">and recognition</tspan><tspan x="18.3" y="149.6">Tools for serving</tspan><tspan x="18.3" y="154">customers</tspan></text>
</g>
<g id="s8-list-mid">
<rect class="cb" x="102.8" y="121.6" width="1.8" height="1.8"/>
<text class="dl"><tspan x="109.3" y="123.3">Service concept:</tspan><tspan x="109.3" y="127.7">results for</tspan><tspan x="109.3" y="132.1">customers</tspan></text>
</g>
<g id="s8-list-bottom">
<rect class="cb" x="133.6" y="142.7" width="1.8" height="1.8"/>
<text class="dl"><tspan x="140" y="144.4">Service designed</tspan><tspan x="140" y="148.9">and delivered to</tspan><tspan x="140" y="153.4">meet targeted</tspan><tspan x="140" y="157.9">customers' needs</tspan></text>
</g>
<g id="s8-list-right">
<rect class="cb" x="171.3" y="121.6" width="1.8" height="1.8"/><rect class="cb" x="171.3" y="126" width="1.8" height="1.8"/><rect class="cb" x="171.3" y="130.4" width="1.8" height="1.8"/>
<text class="dl"><tspan x="177.7" y="123.3">Retention</tspan><tspan x="177.7" y="127.7">Repeat business</tspan><tspan x="177.7" y="132.1">referral</tspan></text>
</g>
</g>
</svg>
